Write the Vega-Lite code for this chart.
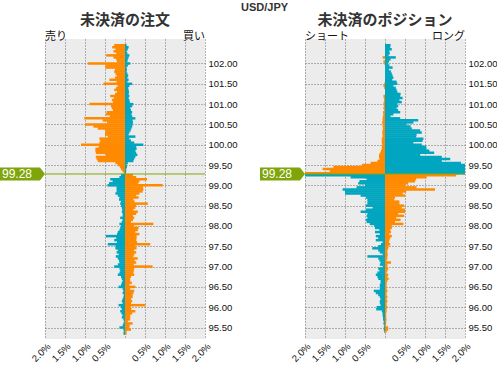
{
  "$schema": "https://vega.github.io/schema/vega-lite/v6.json",
  "background": "white",
  "padding": {"left": 0, "top": 1, "right": 0, "bottom": 0},
  "title": {"text": "USD/JPY", "font": "Liberation Sans", "fontSize": 11, "fontWeight": "bold", "color": "#333333", "anchor": "middle", "dx": 16, "offset": 0},
  "bounds": "flush",
  "spacing": 100,
  "datasets": {
    "cur": [{"price": 99.28}],
    "book": [
      {"p":102.45,"a":0.27,"b":0.04,"c":0,"d":0.14},
      {"p":102.4,"a":0.32,"b":0.09,"c":0,"d":0.13},
      {"p":102.35,"a":0.24,"b":0.07,"c":0,"d":0.17},
      {"p":102.3,"a":0.29,"b":0.04,"c":0,"d":0.11},
      {"p":102.25,"a":0.22,"b":0.06,"c":0,"d":0.12},
      {"p":102.2,"a":0.47,"b":0.11,"c":0,"d":0.09},
      {"p":102.15,"a":0.29,"b":0.09,"c":0.06,"d":0.27},
      {"p":102.1,"a":0.22,"b":0.07,"c":0,"d":0.14},
      {"p":102.05,"a":0.2,"b":0.06,"c":0.04,"d":0.1},
      {"p":102,"a":0.93,"b":0.13,"c":0.02,"d":0.08},
      {"p":101.95,"a":0.49,"b":0.07,"c":0,"d":0.11},
      {"p":101.9,"a":0.49,"b":0.04,"c":0,"d":0.19},
      {"p":101.85,"a":0.25,"b":0.05,"c":0,"d":0.1},
      {"p":101.8,"a":0.27,"b":0.04,"c":0,"d":0.15},
      {"p":101.75,"a":0.24,"b":0.06,"c":0,"d":0.17},
      {"p":101.7,"a":0.21,"b":0.08,"c":0,"d":0.19},
      {"p":101.65,"a":0.25,"b":0.06,"c":0,"d":0.21},
      {"p":101.6,"a":0.39,"b":0.09,"c":0,"d":0.18},
      {"p":101.55,"a":0.21,"b":0.06,"c":0,"d":0.29},
      {"p":101.5,"a":0.54,"b":0.18,"c":0.02,"d":0.31},
      {"p":101.45,"a":0.18,"b":0.11,"c":0.04,"d":0.21},
      {"p":101.4,"a":0.22,"b":0.08,"c":0.02,"d":0.27},
      {"p":101.35,"a":0.27,"b":0.09,"c":0,"d":0.29},
      {"p":101.3,"a":0.2,"b":0.1,"c":0,"d":0.31},
      {"p":101.25,"a":0.25,"b":0.09,"c":0,"d":0.39},
      {"p":101.2,"a":0.37,"b":0.11,"c":0.04,"d":0.38},
      {"p":101.15,"a":0.28,"b":0.09,"c":0.03,"d":0.44},
      {"p":101.1,"a":0.33,"b":0.11,"c":0.02,"d":0.36},
      {"p":101.05,"a":0.3,"b":0.12,"c":0.03,"d":0.42},
      {"p":101,"a":0.89,"b":0.21,"c":0.04,"d":0.31},
      {"p":100.95,"a":0.35,"b":0.18,"c":0.03,"d":0.33},
      {"p":100.9,"a":0.33,"b":0.13,"c":0.04,"d":0.29},
      {"p":100.85,"a":0.3,"b":0.15,"c":0.02,"d":0.33},
      {"p":100.8,"a":0.46,"b":0.18,"c":0.05,"d":0.38},
      {"p":100.75,"a":0.48,"b":0.16,"c":0.04,"d":0.21},
      {"p":100.7,"a":0.38,"b":0.18,"c":0.05,"d":0.14},
      {"p":100.65,"a":1.02,"b":0.26,"c":0.06,"d":0.38},
      {"p":100.6,"a":0.56,"b":0.19,"c":0.06,"d":0.83},
      {"p":100.55,"a":0.45,"b":0.2,"c":0.07,"d":0.71},
      {"p":100.5,"a":1,"b":0.19,"c":0.06,"d":0.54},
      {"p":100.45,"a":0.79,"b":0.18,"c":0.06,"d":0.64},
      {"p":100.4,"a":0.68,"b":0.16,"c":0.05,"d":0.67},
      {"p":100.35,"a":0.5,"b":0.14,"c":0.06,"d":0.88},
      {"p":100.3,"a":0.49,"b":0.11,"c":0.07,"d":0.92},
      {"p":100.25,"a":0.5,"b":0.09,"c":0.06,"d":0.79},
      {"p":100.2,"a":0.43,"b":0.26,"c":0.06,"d":0.78},
      {"p":100.15,"a":0.64,"b":0.11,"c":0.08,"d":0.96},
      {"p":100.1,"a":0.62,"b":0.15,"c":0.08,"d":0.94},
      {"p":100.05,"a":0.64,"b":0.23,"c":0.08,"d":0.71},
      {"p":100,"a":1.1,"b":0.46,"c":0.07,"d":0.92},
      {"p":99.95,"a":0.66,"b":0.28,"c":0.08,"d":1.03},
      {"p":99.9,"a":0.74,"b":0.29,"c":0.08,"d":1.04},
      {"p":99.85,"a":0.74,"b":0.26,"c":0.1,"d":1.11},
      {"p":99.8,"a":0.73,"b":0.28,"c":0.12,"d":1.23},
      {"p":99.75,"a":0.48,"b":0.31,"c":0.15,"d":0.88},
      {"p":99.7,"a":0.73,"b":0.26,"c":0.15,"d":1.42},
      {"p":99.65,"a":0.71,"b":0.23,"c":0.14,"d":1.63},
      {"p":99.6,"a":0.68,"b":0.21,"c":0.19,"d":1.42},
      {"p":99.55,"a":0.24,"b":0.07,"c":0.36,"d":1.9},
      {"p":99.5,"a":0.18,"b":0.04,"c":0.58,"d":2.2},
      {"p":99.45,"a":0.13,"b":0.05,"c":1.29,"d":2.2},
      {"p":99.4,"a":0.1,"b":0.03,"c":1.56,"d":2.2},
      {"p":99.35,"a":0.06,"b":0.03,"c":1.38,"d":2.2},
      {"p":99.3,"a":0.03,"b":0.02,"c":2.2,"d":2.2},
      {"p":99.25,"a":0.1,"b":0.2,"c":2.2,"d":1.78},
      {"p":99.2,"a":0.14,"b":0.28,"c":0.86,"d":1.04},
      {"p":99.15,"a":0.37,"b":0.55,"c":0.46,"d":0.78},
      {"p":99.1,"a":0.31,"b":0.36,"c":0.64,"d":0.75},
      {"p":99.05,"a":0.4,"b":0.33,"c":0.67,"d":0.58},
      {"p":99,"a":0.44,"b":0.94,"c":0.5,"d":0.5},
      {"p":98.95,"a":0.21,"b":0.45,"c":0.71,"d":0.79},
      {"p":98.9,"a":0.21,"b":0.46,"c":1.06,"d":1.25},
      {"p":98.85,"a":0.21,"b":0.44,"c":1,"d":0.53},
      {"p":98.8,"a":0.24,"b":0.36,"c":1,"d":0.44},
      {"p":98.75,"a":0.18,"b":0.28,"c":0.61,"d":0.5},
      {"p":98.7,"a":0.14,"b":0.34,"c":0.48,"d":0.25},
      {"p":98.65,"a":0.15,"b":0.21,"c":0.44,"d":0.23},
      {"p":98.6,"a":0.1,"b":0.24,"c":0.44,"d":0.36},
      {"p":98.55,"a":0.12,"b":0.57,"c":0.44,"d":0.36},
      {"p":98.5,"a":0.1,"b":0.28,"c":0.48,"d":0.48},
      {"p":98.45,"a":0.08,"b":0.26,"c":0.31,"d":0.42},
      {"p":98.4,"a":0.07,"b":0.21,"c":0.48,"d":0.5},
      {"p":98.35,"a":0.08,"b":0.32,"c":0.61,"d":0.5},
      {"p":98.3,"a":0.06,"b":0.28,"c":0.44,"d":0.33},
      {"p":98.25,"a":0.06,"b":0.2,"c":0.46,"d":0.48},
      {"p":98.2,"a":0.12,"b":0.23,"c":0.44,"d":0.28},
      {"p":98.15,"a":0.06,"b":0.2,"c":0.48,"d":0.39},
      {"p":98.1,"a":0.08,"b":0.15,"c":0.46,"d":0.25},
      {"p":98.05,"a":0.14,"b":0.71,"c":0.38,"d":0.46},
      {"p":98,"a":0.1,"b":0.23,"c":0.27,"d":0.17},
      {"p":97.95,"a":0.12,"b":0.34,"c":0.25,"d":0.17},
      {"p":97.9,"a":0.14,"b":0.32,"c":0.14,"d":0.13},
      {"p":97.85,"a":0.18,"b":0.26,"c":0.25,"d":0.15},
      {"p":97.8,"a":0.2,"b":0.36,"c":0.13,"d":0.11},
      {"p":97.75,"a":0.48,"b":0.29,"c":0.23,"d":0.17},
      {"p":97.7,"a":0.22,"b":0.29,"c":0.17,"d":0.13},
      {"p":97.65,"a":0.27,"b":0.28,"c":0.23,"d":0.11},
      {"p":97.6,"a":0.2,"b":0.3,"c":0.06,"d":0.1},
      {"p":97.55,"a":0.43,"b":0.63,"c":0.1,"d":0.13},
      {"p":97.5,"a":0.23,"b":0.26,"c":0.17,"d":0.09},
      {"p":97.45,"a":0.24,"b":0.29,"c":0.32,"d":0.08},
      {"p":97.4,"a":0.18,"b":0.23,"c":0.17,"d":0.06},
      {"p":97.35,"a":0.21,"b":0.28,"c":0.13,"d":0.06},
      {"p":97.3,"a":0.16,"b":0.23,"c":0.06,"d":0.07},
      {"p":97.25,"a":0.23,"b":0.21,"c":0.44,"d":0.06},
      {"p":97.2,"a":0.18,"b":0.32,"c":0.17,"d":0.06},
      {"p":97.15,"a":0.15,"b":0.24,"c":0.14,"d":0.04},
      {"p":97.1,"a":0.14,"b":0.28,"c":0.11,"d":0.15},
      {"p":97.05,"a":0.18,"b":0.22,"c":0.13,"d":0.06},
      {"p":97,"a":0.27,"b":0.69,"c":0.06,"d":0.06},
      {"p":96.95,"a":0.14,"b":0.23,"c":0.17,"d":0.08},
      {"p":96.9,"a":0.12,"b":0.22,"c":0.14,"d":0.06},
      {"p":96.85,"a":0.14,"b":0.21,"c":0.19,"d":0.04},
      {"p":96.8,"a":0.18,"b":0.23,"c":0.23,"d":0.08},
      {"p":96.75,"a":0.1,"b":0.15,"c":0.19,"d":0.06},
      {"p":96.7,"a":0.08,"b":0.13,"c":0.17,"d":0.09},
      {"p":96.65,"a":0.06,"b":0.13,"c":0.11,"d":0.06},
      {"p":96.6,"a":0.08,"b":0.17,"c":0.11,"d":0.04},
      {"p":96.55,"a":0.1,"b":0.11,"c":0.13,"d":0.04},
      {"p":96.5,"a":0.16,"b":0.26,"c":0.13,"d":0.04},
      {"p":96.45,"a":0.06,"b":0.13,"c":0.13,"d":0.04},
      {"p":96.4,"a":0.04,"b":0.23,"c":0.28,"d":0.06},
      {"p":96.35,"a":0.06,"b":0.21,"c":0.23,"d":0.04},
      {"p":96.3,"a":0.03,"b":0.19,"c":0.17,"d":0.04},
      {"p":96.25,"a":0.04,"b":0.19,"c":0.13,"d":0.06},
      {"p":96.2,"a":0.06,"b":0.15,"c":0.11,"d":0.04},
      {"p":96.15,"a":0.08,"b":0.18,"c":0.13,"d":0.06},
      {"p":96.1,"a":0.06,"b":0.15,"c":0.13,"d":0.04},
      {"p":96.05,"a":0.16,"b":0.51,"c":0.11,"d":0.04},
      {"p":96,"a":0.1,"b":0.15,"c":0.21,"d":0.06},
      {"p":95.95,"a":0.08,"b":0.16,"c":0.22,"d":0.04},
      {"p":95.9,"a":0.12,"b":0.26,"c":0.08,"d":0.04},
      {"p":95.85,"a":0.09,"b":0.18,"c":0.06,"d":0.03},
      {"p":95.8,"a":0.06,"b":0.13,"c":0.06,"d":0.03},
      {"p":95.75,"a":0.08,"b":0.13,"c":0.05,"d":0.03},
      {"p":95.7,"a":0.04,"b":0.13,"c":0.05,"d":0.04},
      {"p":95.65,"a":0.02,"b":0.07,"c":0.03,"d":0.03},
      {"p":95.6,"a":0.04,"b":0.19,"c":0.04,"d":0.03},
      {"p":95.55,"a":0.06,"b":0.12,"c":0.02,"d":0.02},
      {"p":95.5,"a":0.14,"b":0.11,"c":0.03,"d":0.08},
      {"p":95.45,"a":0.04,"b":0.15,"c":0.03,"d":0.08},
      {"p":95.4,"a":0.03,"b":0.04,"c":0.02,"d":0.04},
      {"p":95.35,"a":0.04,"b":0.04,"c":0,"d":0}
    ]
  },
  "hconcat": [
    {
      "width": 160,
      "height": 300,
      "title": {"text": "未決済の注文", "font": "Noto Sans CJK JP", "fontSize": 15, "fontWeight": "bold", "color": "#333333", "anchor": "middle", "frame": "group", "offset": 3},
      "data": {"name": "book"},
      "layer": [
        {
          "transform": [
            {"fold": ["a", "b"], "as": ["side", "v"]},
            {"calculate": "datum.side == 'a' ? -datum.v : datum.v", "as": "x"}
          ],
          "mark": {"type": "bar", "orient": "horizontal", "size": 2.5, "clip": true},
          "encoding": {
            "y": {"field": "p", "type": "quantitative", "scale": {"domain": [95.34, 102.48], "nice": false, "zero": false},
              "axis": {"orient": "right", "values": [95.5, 96, 96.5, 97, 97.5, 98, 98.5, 99, 99.5, 100, 100.5, 101, 101.5, 102], "format": ".2f", "title": null, "labelOverlap": false, "grid": true}},
            "x": {"field": "x", "type": "quantitative", "scale": {"domain": [-2, 2], "nice": false},
              "axis": {"values": [-2, -1.5, -1, -0.5, 0, 0.5, 1, 1.5, 2], "labelExpr": "datum.value == 0 ? '' : format(abs(datum.value), '.1f') + '%'", "labelAngle": -45, "title": null, "labelOverlap": false, "grid": true}},
            "color": {"condition": {"test": "(datum.side == 'a') == (datum.p > 99.28)", "value": "#ff8a00"}, "value": "#00a6bf"}
          }
        },
        {
          "data": {"name": "cur"},
          "mark": {"type": "rule", "color": "#7fa50a", "strokeWidth": 1},
          "encoding": {"y": {"field": "price", "type": "quantitative",
            "axis": {"orient": "right", "values": [95.5, 96, 96.5, 97, 97.5, 98, 98.5, 99, 99.5, 100, 100.5, 101, 101.5, 102], "format": ".2f", "title": null, "labelOverlap": false, "grid": true}}}
        },
        {
          "data": {"name": "cur"},
          "mark": {"type": "point", "shape": "M-45,-6.5H-5L0,0L-5,6.5H-45Z", "size": 4, "filled": true, "color": "#7fa50a", "opacity": 1},
          "encoding": {
            "x": {"datum": -2, "type": "quantitative",
              "axis": {"values": [-2, -1.5, -1, -0.5, 0, 0.5, 1, 1.5, 2], "labelExpr": "datum.value == 0 ? '' : format(abs(datum.value), '.1f') + '%'", "labelAngle": -45, "title": null, "labelOverlap": false, "grid": true}},
            "y": {"field": "price", "type": "quantitative",
              "axis": {"orient": "right", "values": [95.5, 96, 96.5, 97, 97.5, 98, 98.5, 99, 99.5, 100, 100.5, 101, 101.5, 102], "format": ".2f", "title": null, "labelOverlap": false, "grid": true}}
          }
        },
        {
          "data": {"name": "cur"},
          "mark": {"type": "text", "color": "white", "font": "Liberation Sans", "fontSize": 12, "dx": -28, "align": "center", "baseline": "middle"},
          "encoding": {
            "x": {"datum": -2, "type": "quantitative",
              "axis": {"values": [-2, -1.5, -1, -0.5, 0, 0.5, 1, 1.5, 2], "labelExpr": "datum.value == 0 ? '' : format(abs(datum.value), '.1f') + '%'", "labelAngle": -45, "title": null, "labelOverlap": false, "grid": true}},
            "y": {"field": "price", "type": "quantitative",
              "axis": {"orient": "right", "values": [95.5, 96, 96.5, 97, 97.5, 98, 98.5, 99, 99.5, 100, 100.5, 101, 101.5, 102], "format": ".2f", "title": null, "labelOverlap": false, "grid": true}},
            "text": {"field": "price", "type": "quantitative", "format": ".2f"}
          }
        },
        {
          "data": {"values": [{"t": "売り"}]},
          "mark": {"type": "text", "align": "left", "baseline": "bottom", "dy": -2, "font": "Noto Sans CJK JP", "fontSize": 11, "color": "#111111"},
          "encoding": {
            "x": {"datum": -2, "type": "quantitative",
              "axis": {"values": [-2, -1.5, -1, -0.5, 0, 0.5, 1, 1.5, 2], "labelExpr": "datum.value == 0 ? '' : format(abs(datum.value), '.1f') + '%'", "labelAngle": -45, "title": null, "labelOverlap": false, "grid": true}},
            "y": {"datum": 102.48, "type": "quantitative",
              "axis": {"orient": "right", "values": [95.5, 96, 96.5, 97, 97.5, 98, 98.5, 99, 99.5, 100, 100.5, 101, 101.5, 102], "format": ".2f", "title": null, "labelOverlap": false, "grid": true}},
            "text": {"field": "t"}
          }
        },
        {
          "data": {"values": [{"t": "買い"}]},
          "mark": {"type": "text", "align": "right", "baseline": "bottom", "dy": -2, "font": "Noto Sans CJK JP", "fontSize": 11, "color": "#111111"},
          "encoding": {
            "x": {"datum": 2, "type": "quantitative",
              "axis": {"values": [-2, -1.5, -1, -0.5, 0, 0.5, 1, 1.5, 2], "labelExpr": "datum.value == 0 ? '' : format(abs(datum.value), '.1f') + '%'", "labelAngle": -45, "title": null, "labelOverlap": false, "grid": true}},
            "y": {"datum": 102.48, "type": "quantitative",
              "axis": {"orient": "right", "values": [95.5, 96, 96.5, 97, 97.5, 98, 98.5, 99, 99.5, 100, 100.5, 101, 101.5, 102], "format": ".2f", "title": null, "labelOverlap": false, "grid": true}},
            "text": {"field": "t"}
          }
        }
      ]
    },
    {
      "width": 160,
      "height": 300,
      "title": {"text": "未決済のポジション", "font": "Noto Sans CJK JP", "fontSize": 15, "fontWeight": "bold", "color": "#333333", "anchor": "middle", "frame": "group", "offset": 3},
      "data": {"name": "book"},
      "layer": [
        {
          "transform": [
            {"fold": ["c", "d"], "as": ["side", "v"]},
            {"calculate": "datum.side == 'c' ? -datum.v : datum.v", "as": "x"}
          ],
          "mark": {"type": "bar", "orient": "horizontal", "size": 2.5, "clip": true},
          "encoding": {
            "y": {"field": "p", "type": "quantitative", "scale": {"domain": [95.34, 102.48], "nice": false, "zero": false},
              "axis": {"orient": "right", "values": [95.5, 96, 96.5, 97, 97.5, 98, 98.5, 99, 99.5, 100, 100.5, 101, 101.5, 102], "format": ".2f", "title": null, "labelOverlap": false, "grid": true}},
            "x": {"field": "x", "type": "quantitative", "scale": {"domain": [-2, 2], "nice": false},
              "axis": {"values": [-2, -1.5, -1, -0.5, 0, 0.5, 1, 1.5, 2], "labelExpr": "datum.value == 0 ? '' : format(abs(datum.value), '.1f') + '%'", "labelAngle": -45, "title": null, "labelOverlap": false, "grid": true}},
            "color": {"condition": {"test": "(datum.side == 'c') == (datum.p > 99.28)", "value": "#ff8a00"}, "value": "#00a6bf"}
          }
        },
        {
          "data": {"name": "cur"},
          "mark": {"type": "rule", "color": "#7fa50a", "strokeWidth": 1},
          "encoding": {"y": {"field": "price", "type": "quantitative",
            "axis": {"orient": "right", "values": [95.5, 96, 96.5, 97, 97.5, 98, 98.5, 99, 99.5, 100, 100.5, 101, 101.5, 102], "format": ".2f", "title": null, "labelOverlap": false, "grid": true}}}
        },
        {
          "data": {"name": "cur"},
          "mark": {"type": "point", "shape": "M-45,-6.5H-5L0,0L-5,6.5H-45Z", "size": 4, "filled": true, "color": "#7fa50a", "opacity": 1},
          "encoding": {
            "x": {"datum": -2, "type": "quantitative",
              "axis": {"values": [-2, -1.5, -1, -0.5, 0, 0.5, 1, 1.5, 2], "labelExpr": "datum.value == 0 ? '' : format(abs(datum.value), '.1f') + '%'", "labelAngle": -45, "title": null, "labelOverlap": false, "grid": true}},
            "y": {"field": "price", "type": "quantitative",
              "axis": {"orient": "right", "values": [95.5, 96, 96.5, 97, 97.5, 98, 98.5, 99, 99.5, 100, 100.5, 101, 101.5, 102], "format": ".2f", "title": null, "labelOverlap": false, "grid": true}}
          }
        },
        {
          "data": {"name": "cur"},
          "mark": {"type": "text", "color": "white", "font": "Liberation Sans", "fontSize": 12, "dx": -28, "align": "center", "baseline": "middle"},
          "encoding": {
            "x": {"datum": -2, "type": "quantitative",
              "axis": {"values": [-2, -1.5, -1, -0.5, 0, 0.5, 1, 1.5, 2], "labelExpr": "datum.value == 0 ? '' : format(abs(datum.value), '.1f') + '%'", "labelAngle": -45, "title": null, "labelOverlap": false, "grid": true}},
            "y": {"field": "price", "type": "quantitative",
              "axis": {"orient": "right", "values": [95.5, 96, 96.5, 97, 97.5, 98, 98.5, 99, 99.5, 100, 100.5, 101, 101.5, 102], "format": ".2f", "title": null, "labelOverlap": false, "grid": true}},
            "text": {"field": "price", "type": "quantitative", "format": ".2f"}
          }
        },
        {
          "data": {"values": [{"t": "ショート"}]},
          "mark": {"type": "text", "align": "left", "baseline": "bottom", "dy": -2, "font": "Noto Sans CJK JP", "fontSize": 11, "color": "#111111"},
          "encoding": {
            "x": {"datum": -2, "type": "quantitative",
              "axis": {"values": [-2, -1.5, -1, -0.5, 0, 0.5, 1, 1.5, 2], "labelExpr": "datum.value == 0 ? '' : format(abs(datum.value), '.1f') + '%'", "labelAngle": -45, "title": null, "labelOverlap": false, "grid": true}},
            "y": {"datum": 102.48, "type": "quantitative",
              "axis": {"orient": "right", "values": [95.5, 96, 96.5, 97, 97.5, 98, 98.5, 99, 99.5, 100, 100.5, 101, 101.5, 102], "format": ".2f", "title": null, "labelOverlap": false, "grid": true}},
            "text": {"field": "t"}
          }
        },
        {
          "data": {"values": [{"t": "ロング"}]},
          "mark": {"type": "text", "align": "right", "baseline": "bottom", "dy": -2, "font": "Noto Sans CJK JP", "fontSize": 11, "color": "#111111"},
          "encoding": {
            "x": {"datum": 2, "type": "quantitative",
              "axis": {"values": [-2, -1.5, -1, -0.5, 0, 0.5, 1, 1.5, 2], "labelExpr": "datum.value == 0 ? '' : format(abs(datum.value), '.1f') + '%'", "labelAngle": -45, "title": null, "labelOverlap": false, "grid": true}},
            "y": {"datum": 102.48, "type": "quantitative",
              "axis": {"orient": "right", "values": [95.5, 96, 96.5, 97, 97.5, 98, 98.5, 99, 99.5, 100, 100.5, 101, 101.5, 102], "format": ".2f", "title": null, "labelOverlap": false, "grid": true}},
            "text": {"field": "t"}
          }
        }
      ]
    }
  ],
  "config": {
    "view": {"fill": "#ececec", "stroke": null},
    "axis": {"labelFont": "Liberation Sans", "labelFontSize": 9.5, "labelColor": "#111111", "labelOverlap": false, "labelBound": false, "labelFlush": false, "grid": true, "gridDash": [1, 2], "gridColor": "#6e6e6e", "gridWidth": 1, "gridOpacity": 1, "domain": false, "ticks": false, "labelPadding": 3},
    "axisX": {"labelPadding": 2}
  }
}
